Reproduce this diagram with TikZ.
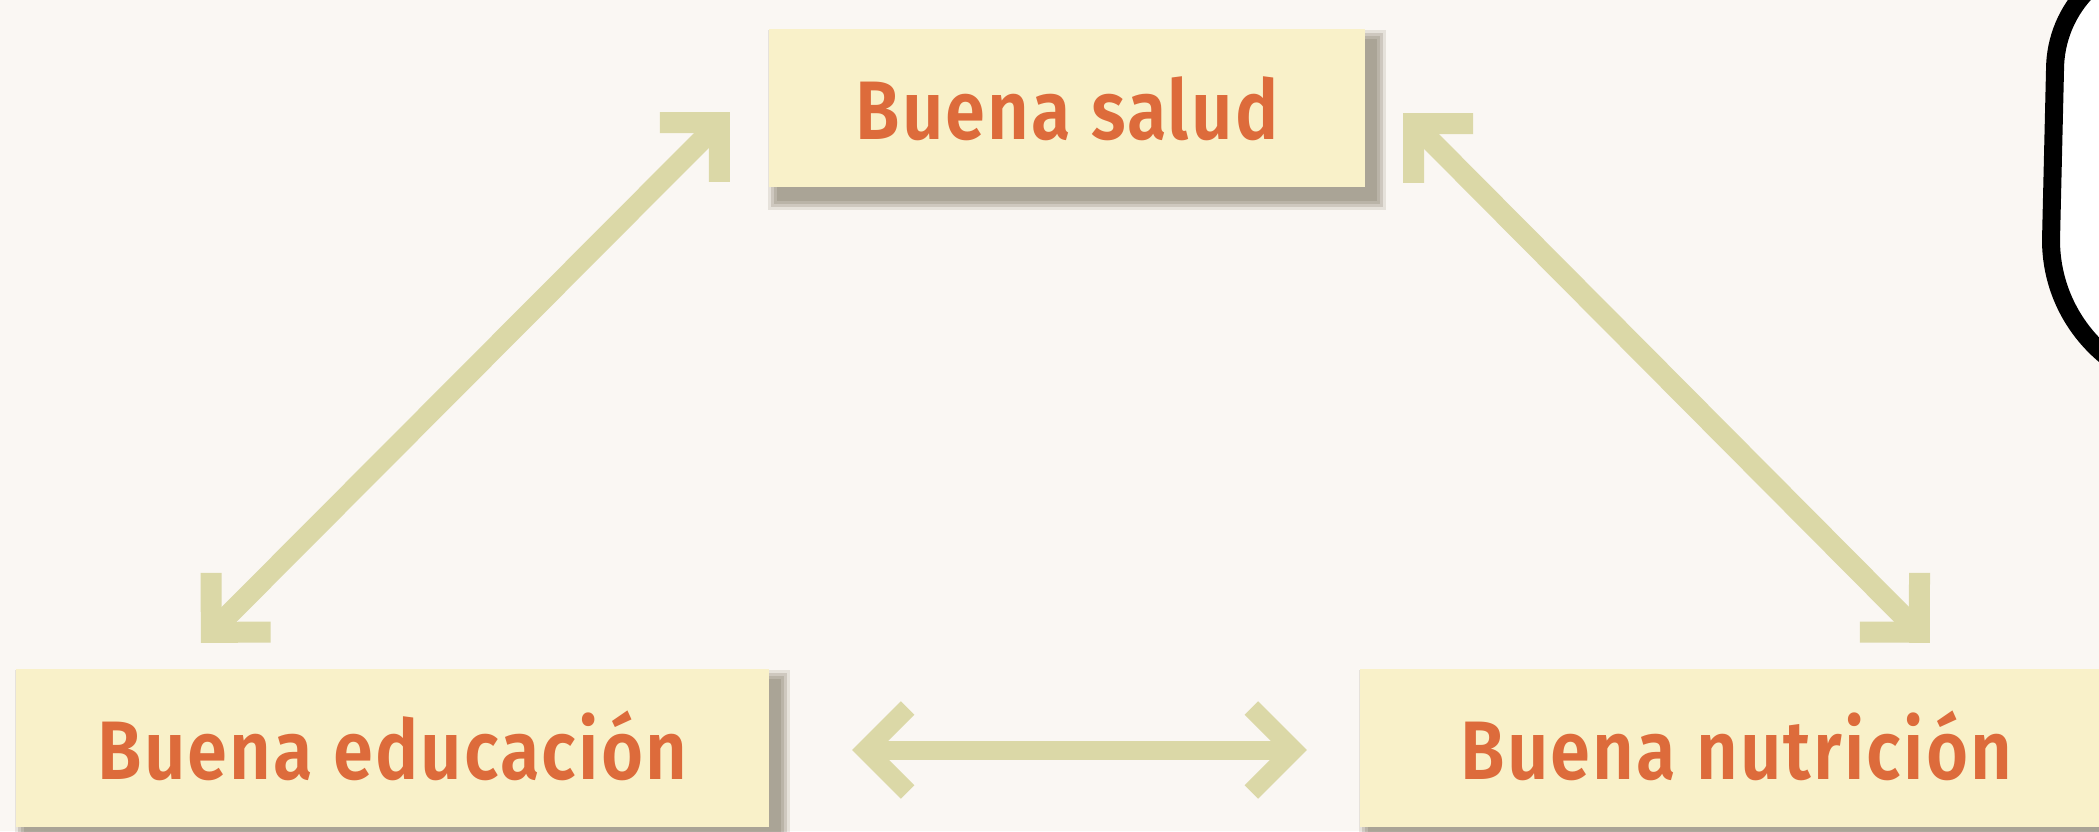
\documentclass[tikz,border=0pt]{standalone}
\usepackage{fontspec}
\setmainfont{Fira Sans}
\newfontfamily\labelfont{Fira Sans SemiBold}[LetterSpace=3]
\usetikzlibrary{arrows.meta,calc}
\definecolor{bgc}{RGB}{250,247,243}
\definecolor{boxc}{RGB}{249,241,201}
\definecolor{txtc}{RGB}{221,107,59}
\definecolor{arrc}{RGB}{219,216,167}
\definecolor{shdc}{RGB}{110,100,80}
\pgfdeclarelayer{back}
\pgfsetlayers{back,main}
\newcommand\boxtext[1]{\scalebox{0.87}[1]{#1}}
\tikzset{
  box/.style={fill=boxc, inner sep=0pt, minimum height=158pt, text height=63pt,
    text depth=0pt, font=\labelfont\fontsize{83}{85}\selectfont, text=txtc},
  diagarrow/.style={draw=arrc, line width=21pt,
    {Straight Barb[sharp,length=42pt,width=84pt]}-{Straight Barb[sharp,length=42pt,width=84pt]}},
  horizarrow/.style={draw=arrc, line width=19pt,
    {Straight Barb[sharp,length=42pt,width=84pt]}-{Straight Barb[sharp,length=42pt,width=84pt]}},
  bubble/.style={draw=black, line width=18pt}
}
\newcommand\shadowof[1]{%
  \foreach \e/\o in {11/0.14,8/0.2,5/0.2,2/0.2}{%
    \fill[shdc, opacity=\o] ($(#1.north west)+(10-\e,12-\e)$) rectangle ($(#1.south east)+(10+\e,12+\e)$);}}
\begin{document}
\begin{tikzpicture}[x=1pt,y=-1pt]
\begin{pgfonlayer}{back}
\fill[bgc] (0,0) rectangle (2099,831);
\end{pgfonlayer}
\useasboundingbox (0,0) rectangle (2099,831);
\clip (0,0) rectangle (2099,831);
\node[box, minimum width=596pt] (top) at (1067,108) {\boxtext{Buena salud}};
\node[box, minimum width=753pt] (bl) at (392.5,748) {\boxtext{Buena educación}};
\node[box, minimum width=753pt] (br) at (1736.5,748) {\boxtext{Buena nutrición}};
\begin{pgfonlayer}{back}
\shadowof{top}\shadowof{bl}\shadowof{br}
\end{pgfonlayer}
\draw[diagarrow] ($(top.west)+(-39,4)$) -- ($(bl.north west)+(185,-26)$);
\draw[diagarrow] ($(top.east)+(38,5)$) -- ($(br.north west)+(570,-26)$);
\draw[horizarrow] ($(bl.east)+(83,2)$) -- ($(br.west)+(-53,2)$);
\fill[white] (2169,-44) arc[start angle=270, end angle=180, radius=114] -- (2051,240)
  arc[start angle=180, end angle=90, radius=150] -- (2300,390) -- (2300,-44) -- cycle;
\draw[bubble] (2169,-44) arc[start angle=270, end angle=180, radius=114] -- (2051,240)
  arc[start angle=180, end angle=90, radius=150];
\end{tikzpicture}
\end{document}
